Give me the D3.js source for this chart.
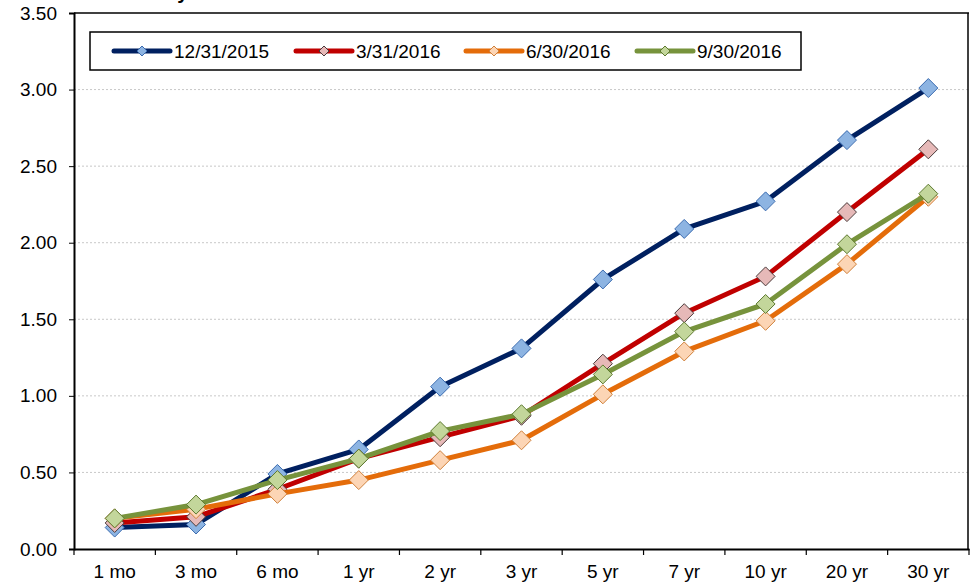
<!DOCTYPE html>
<html>
<head>
<meta charset="utf-8">
<script src="https://cdn.jsdelivr.net/npm/d3@7"></script>
<style>
  html, body { margin: 0; padding: 0; background: #fff; }
  svg { display: block; font-family: "Liberation Sans", Arial, sans-serif; }
</style>
</head>
<body>
<svg id="chart" width="975" height="583"></svg>
<script>
const categories = ["1 mo", "3 mo", "6 mo", "1 yr", "2 yr", "3 yr", "5 yr", "7 yr", "10 yr", "20 yr", "30 yr"];
const seriesNames = ["12/31/2015", "3/31/2016", "6/30/2016", "9/30/2016"];
const values2015Q4 = [0.14, 0.16, 0.49, 0.65, 1.06, 1.31, 1.76, 2.09, 2.27, 2.67, 3.01];
const values2016Q1 = [0.17, 0.21, 0.39, 0.59, 0.73, 0.87, 1.21, 1.54, 1.78, 2.20, 2.61];
const values2016Q2 = [0.20, 0.26, 0.36, 0.45, 0.58, 0.71, 1.01, 1.29, 1.49, 1.86, 2.30];
const values2016Q3 = [0.20, 0.29, 0.45, 0.59, 0.77, 0.88, 1.14, 1.42, 1.60, 1.99, 2.32];
const yTicks = [0, 0.5, 1.0, 1.5, 2.0, 2.5, 3.0, 3.5];
const titleText = "Treasury Yield Curve";

(function () {
const styles = [
  { line: "#002060", fill: "#8DB4E2", stroke: "#3A6BB0" },
  { line: "#C00000", fill: "#E6B9B8", stroke: "#4A3A3A" },
  { line: "#E46C0A", fill: "#FCD5B5", stroke: "#D0803A" },
  { line: "#77933C", fill: "#C3D69B", stroke: "#5E7A30" }
];
const allValues = [values2015Q4, values2016Q1, values2016Q2, values2016Q3];

const svg = d3.select("#chart");
const pLeft = 74, pRight = 969, pTop = 13, pBottom = 549;

const x = d3.scaleBand().domain(categories).range([pLeft, pRight]).padding(0);
const y = d3.scaleLinear().domain([0, 3.5]).range([pBottom, pTop]);
const cx = c => x(c) + x.bandwidth() / 2;

// title (mostly cropped off the top)
svg.append("text").attr("x", 105).attr("y", -1)
  .attr("font-size", 20).attr("font-weight", "bold").attr("fill", "#000")
  .text(titleText);

// gridlines
svg.append("g").selectAll("line")
  .data(yTicks.filter(t => t > 0 && t < 3.5))
  .join("line")
  .attr("x1", pLeft).attr("x2", pRight)
  .attr("y1", d => y(d)).attr("y2", d => y(d))
  .attr("stroke", "#c8c8c8").attr("stroke-width", 1).attr("stroke-dasharray", "2,2");

// plot frame top/right
svg.append("line").attr("x1", pLeft).attr("x2", pRight).attr("y1", pTop).attr("y2", pTop)
  .attr("stroke", "#000").attr("stroke-width", 1.5);
svg.append("line").attr("x1", pRight - 1).attr("x2", pRight - 1).attr("y1", pTop).attr("y2", pBottom)
  .attr("stroke", "#000").attr("stroke-width", 1.5);

// y axis
const yAxis = d3.axisLeft(y).tickValues(yTicks).tickFormat(d3.format(".2f")).tickSize(5).tickPadding(12);
const gy = svg.append("g").attr("transform", `translate(${pLeft},0)`).call(yAxis);
gy.select(".domain").attr("stroke", "#000").attr("stroke-width", 2);
gy.selectAll(".tick line").attr("stroke", "#000").attr("stroke-width", 1);
gy.selectAll(".tick text").attr("font-size", 19).attr("fill", "#000")
  .attr("font-family", "'Liberation Sans', Arial, sans-serif");

// x axis
const xAxis = d3.axisBottom(x).tickSize(0).tickPadding(16);
const gx = svg.append("g").attr("transform", `translate(0,${pBottom})`).call(xAxis);
gx.select(".domain").attr("stroke", "#000").attr("stroke-width", 2);
gx.selectAll(".tick text").attr("font-size", 19).attr("fill", "#000")
  .attr("font-family", "'Liberation Sans', Arial, sans-serif");
// band boundary ticks
const bounds = categories.map(c => x(c)).concat([pRight]);
svg.append("g").selectAll("line").data(bounds).join("line")
  .attr("x1", d => d).attr("x2", d => d)
  .attr("y1", pBottom).attr("y2", pBottom + 6)
  .attr("stroke", "#000").attr("stroke-width", 1.2);

// series
const line = d3.line().x((d, i) => cx(categories[i])).y(d => y(d));
const diamond = (px, py, r) => `M${px},${py - r}L${px + r},${py}L${px},${py + r}L${px - r},${py}Z`;

allValues.forEach((vals, si) => {
  const st = styles[si];
  const g = svg.append("g");
  g.append("path").datum(vals).attr("d", line)
    .attr("fill", "none").attr("stroke", st.line).attr("stroke-width", 5)
    .attr("stroke-linejoin", "round").attr("stroke-linecap", "round");
  g.selectAll("path.m").data(vals).join("path").attr("class", "m")
    .attr("d", (d, i) => diamond(cx(categories[i]), y(d), 9.5))
    .attr("fill", st.fill).attr("stroke", st.stroke).attr("stroke-width", 1);
});

// legend
const legend = svg.append("g");
legend.append("rect").attr("x", 90).attr("y", 32).attr("width", 711).attr("height", 38)
  .attr("fill", "#fff").attr("stroke", "#000").attr("stroke-width", 1.5);
const legendX = [114, 296, 466, 637];
seriesNames.forEach((name, i) => {
  const st = styles[i];
  const lx = legendX[i], ly = 51;
  legend.append("line").attr("x1", lx).attr("x2", lx + 56).attr("y1", ly).attr("y2", ly)
    .attr("stroke", st.line).attr("stroke-width", 5).attr("stroke-linecap", "round");
  legend.append("path").attr("d", diamond(lx + 28, ly, 5))
    .attr("fill", st.fill).attr("stroke", st.stroke).attr("stroke-width", 1);
  legend.append("text").attr("x", lx + 60).attr("y", ly + 7)
    .attr("font-size", 19).attr("fill", "#000").text(name);
});
})();
</script>
</body>
</html>
